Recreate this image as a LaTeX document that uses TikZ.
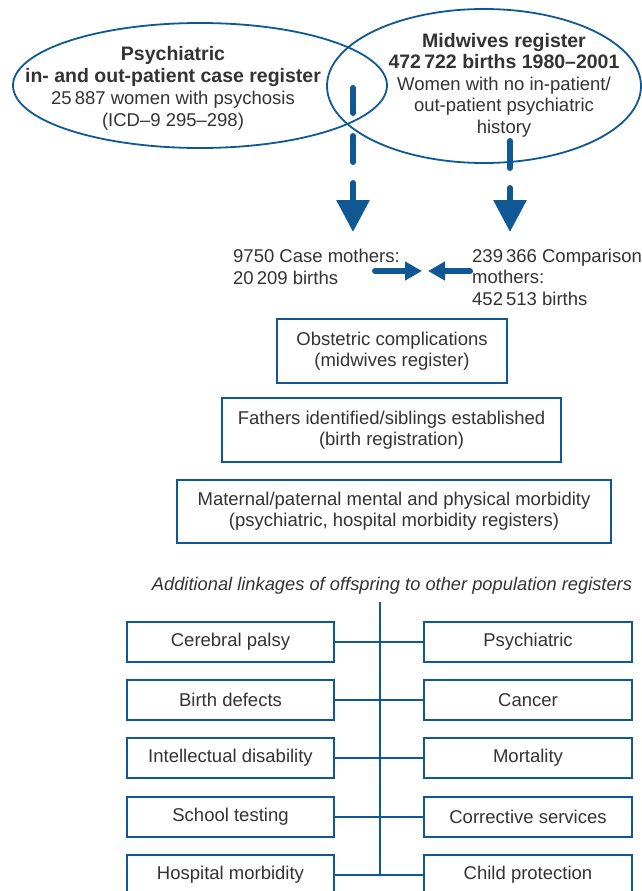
\documentclass[tikz,border=0pt]{standalone}
\usepackage{fontspec}
\setmainfont{Liberation Sans}
\usetikzlibrary{arrows.meta}
\definecolor{dblue}{HTML}{0F5894}
\definecolor{txt}{HTML}{333333}
\newcommand{\bl}[1]{{\fontsize{19.5}{22}\selectfont\bfseries #1}}
\begin{document}
\begin{tikzpicture}[x=1pt,y=-1pt,
  every node/.style={text=txt,font=\fontsize{18.5}{22}\selectfont,inner sep=0pt},
  outline/.style={draw=dblue,line width=1.8pt},
  regbox/.style={draw=dblue,line width=1.8pt,align=center,minimum height=40pt,minimum width=207pt},
  infobox/.style={draw=dblue,line width=1.8pt,align=center,font=\fontsize{18.5}{21}\selectfont},
  thick line/.style={draw=dblue,line width=6pt,line cap=round},
  bigarrow/.style={thick line,-{Triangle[width=32pt,length=32pt]}},
  smallarrow/.style={thick line,-{Triangle[width=18pt,length=17pt]}},
  link/.style={draw=dblue,line width=1.8pt}]
\clip (0,0) rectangle (642,891);
\fill[white] (0,0) rectangle (642,891);
% ellipses
\draw[outline] (200,85.5) ellipse [x radius=187, y radius=62.5];
\draw[outline] (484,86) ellipse [x radius=157, y radius=77];
\node[align=center,anchor=north] (psy) at (173,46) {\bl{Psychiatric}\\\bl{in- and out-patient case register}\\25\,887 women with psychosis\\(ICD–9 295–298)};
\node[align=center,anchor=north,font=\fontsize{18.5}{21.5}\selectfont] (mid) at (504,33) {\bl{Midwives register}\\\bl{472\,722 births 1980–2001}\\Women with no in-patient/\\out-patient psychiatric\\history};
% dashes and arrows
\coordinate (ld1a) at (353,88); \coordinate (ld1b) at (353,113);
\coordinate (ld2a) at (353,136); \coordinate (ld2b) at (353,162);
\coordinate (la) at (353,183); \coordinate (lt) at (353,232);
\coordinate (rd1a) at (510,141); \coordinate (rd1b) at (510,168);
\coordinate (ra) at (510,188); \coordinate (rt) at (510,232);
\draw[thick line] (ld1a) -- (ld1b);
\draw[thick line] (ld2a) -- (ld2b);
\draw[bigarrow] (la) -- (lt);
\draw[thick line] (rd1a) -- (rd1b);
\draw[bigarrow] (ra) -- (rt);
% mothers
\node[align=left,anchor=north west] (case) at (233,248.5) {9750 Case mothers:\\20\,209 births};
\node[align=left,anchor=north west,font=\fontsize{18.5}{21.5}\selectfont] (comp) at (472,248.5) {239\,366 Comparison\\mothers:\\452\,513 births};
\coordinate (ha) at (375,271); \coordinate (hb) at (422,271);
\coordinate (hc) at (470,271); \coordinate (hd) at (428,271);
\draw[smallarrow] (ha) -- (hb);
\draw[smallarrow] (hc) -- (hd);
% info boxes
\node[infobox,minimum width=230pt,minimum height=64pt] (obs) at (392,351) {Obstetric complications\\(midwives register)};
\node[infobox,minimum width=339pt,minimum height=64pt] (fat) at (391.5,430) {Fathers identified/siblings established\\(birth registration)};
\node[infobox,minimum width=434pt,minimum height=63pt] (mat) at (394,511.5) {Maternal/paternal mental and physical morbidity\\(psychiatric, hospital morbidity registers)};
\node[font=\fontsize{18.3}{20}\selectfont\itshape] (add) at (392,586) {Additional linkages of offspring to other population registers};
% register boxes
\node[regbox] (l1) at (230.5,642) {Cerebral palsy};
\node[regbox] (l2) at (230.5,700) {Birth defects};
\node[regbox] (l3) at (230.5,758) {Intellectual disability};
\node[regbox] (l4) at (230.5,817) {School testing};
\node[regbox] (l5) at (230.5,875) {Hospital morbidity};
\node[regbox,minimum width=208pt] (r1) at (528,642) {Psychiatric};
\node[regbox,minimum width=208pt] (r2) at (528,700) {Cancer};
\node[regbox,minimum width=208pt] (r3) at (528,758) {Mortality};
\node[regbox,minimum width=208pt] (r4) at (528,817) {Corrective services};
\node[regbox,minimum width=208pt] (r5) at (528,875) {Child protection};
\coordinate (vtop) at (380,602);
\coordinate (vbot) at (380,875);
\draw[link] (vtop) -- (vbot);
\foreach \i in {1,...,5} {\draw[link] (l\i.east) -- (r\i.west);}
\end{tikzpicture}
\end{document}
